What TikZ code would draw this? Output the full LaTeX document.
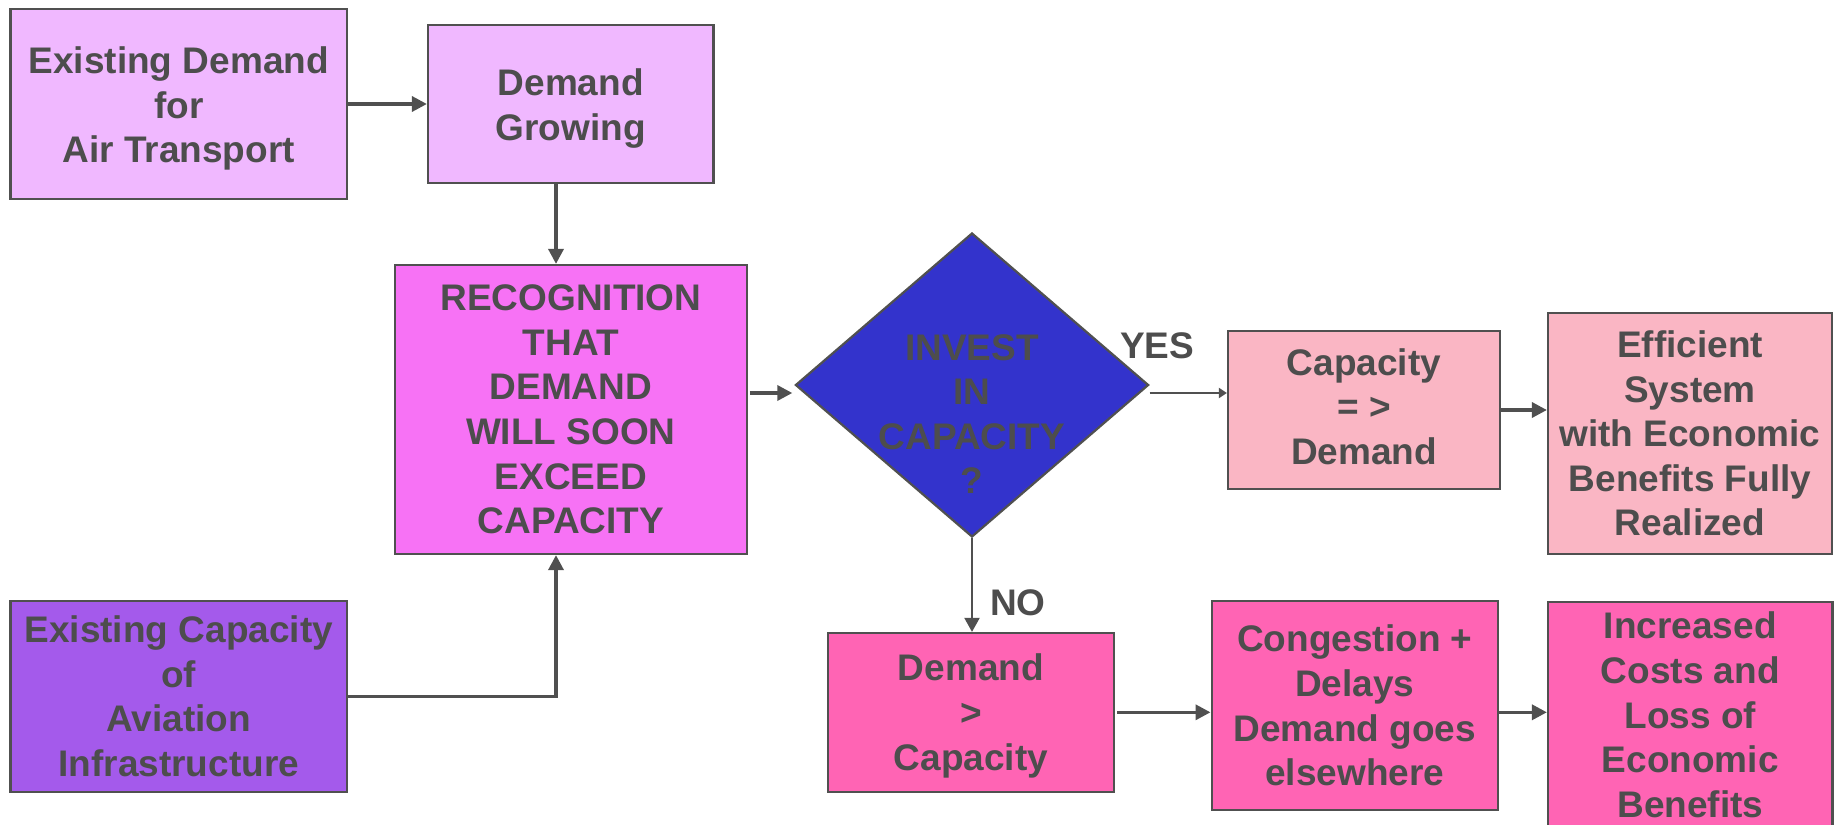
\documentclass[tikz,border=0pt]{standalone}
\usepackage{fontspec}
\setmainfont{Liberation Sans}
\usetikzlibrary{shapes.geometric,arrows.meta}
\definecolor{lav}{RGB}{240,184,255}
\definecolor{mag}{RGB}{247,114,245}
\definecolor{blu}{RGB}{51,51,204}
\definecolor{lpink}{RGB}{250,182,196}
\definecolor{purp}{RGB}{164,90,235}
\definecolor{hpink}{RGB}{255,100,180}
\definecolor{txt}{RGB}{77,77,77}
\definecolor{brd}{RGB}{80,80,80}
\tikzset{
  box/.style={draw=brd,line width=1.1pt,inner sep=0pt,align=center,text=txt,
    font=\fontsize{18.5}{22.3}\selectfont\bfseries},
  dia/.style={draw=brd,line width=1.1pt,diamond,inner sep=0pt,fill=blu},
  lbl/.style={text=txt,font=\fontsize{18.5}{22.3}\selectfont\bfseries,align=center,inner sep=0pt},
  arr/.style={draw=brd,line width=1.7pt,-{Triangle[length=7.5pt,width=7.5pt]}},
  tarr/.style={draw=brd,line width=1pt,-{Triangle[length=7pt,width=7.5pt]}},
  sarr/.style={draw=brd,line width=1pt,-{Triangle[length=4pt,width=5pt]}},
}
\begin{document}
\begin{tikzpicture}[x=0.5pt,y=-0.5pt]
\useasboundingbox (0,0) rectangle (1834,824);
\clip (0,0) rectangle (1834,824);
\fill[white] (0,0) rectangle (1834,824);
\node[box,fill=lav,minimum width=168.25pt,minimum height=95pt] (A) at (178.75,104) {\rule{0pt}{18pt}Existing Demand\\for\\Air Transport};
\node[box,fill=lav,minimum width=142.75pt,minimum height=79pt] (B) at (570.75,104) {\rule{0pt}{18pt}Demand\\Growing};
\node[box,fill=mag,minimum width=175.85pt,minimum height=144.5pt] (C) at (570.85,409.5) {RECOGNITION\\THAT\\DEMAND\\WILL SOON\\EXCEED\\CAPACITY};
\node[dia,minimum width=176.6pt,minimum height=152pt] (D) at (972,385) {};
\node[lbl] (Dt) at (972,414) {INVEST\\IN\\CAPACITY\\?};
\node[box,fill=lpink,minimum width=136pt,minimum height=79pt] (E) at (1364,410) {Capacity\\= >\\Demand\rule[-3.5pt]{0pt}{1pt}};
\node[box,fill=lpink,minimum width=142pt,minimum height=120.5pt] (F) at (1690,433.5) {Efficient\\System\\with Economic\\Benefits Fully\\Realized};
\node[box,fill=purp,minimum width=168.25pt,minimum height=95.3pt] (G) at (178.75,696.3) {Existing Capacity\\of\\Aviation\\Infrastructure};
\node[box,fill=hpink,minimum width=143.15pt,minimum height=79.3pt] (H) at (970.85,712.3) {\rule{0pt}{17pt}Demand\\>\\Capacity};
\node[box,fill=hpink,minimum width=143.2pt,minimum height=104.5pt] (I) at (1354.8,705.5) {Congestion +\\Delays\\Demand goes\\elsewhere};
\node[box,fill=hpink,minimum width=142.25pt,minimum height=113.15pt] (J) at (1690.25,714.8) {Increased\\Costs and\\Loss of\\Economic\\Benefits};
\node[lbl] (yes) at (1157,346) {YES};
\node[lbl] (no) at (1018,603) {NO};
\coordinate (cx) at (556,0);
\coordinate (cd) at (0,393);
\draw[arr] (A.east) -- (B.west);
\draw[arr] (B.south -| cx) -- (C.north -| cx);
\draw[arr] (G.east) -- (G.east -| cx) -- (C.south -| cx);
\draw[arr] ([xshift=1pt]C.east |- cd) -- ([xshift=-1pt]D.west |- cd);
\draw[sarr] (D.east |- cd) -- (E.west |- cd);
\draw[arr] (E.east) -- (F.west |- E.east);
\draw[tarr] (D.south) -- (D.south |- H.north);
\draw[arr] ([xshift=1pt]H.east) -- (I.west |- H.east);
\draw[arr] (I.east |- H.east) -- (J.west |- H.east);
\end{tikzpicture}
\end{document}
